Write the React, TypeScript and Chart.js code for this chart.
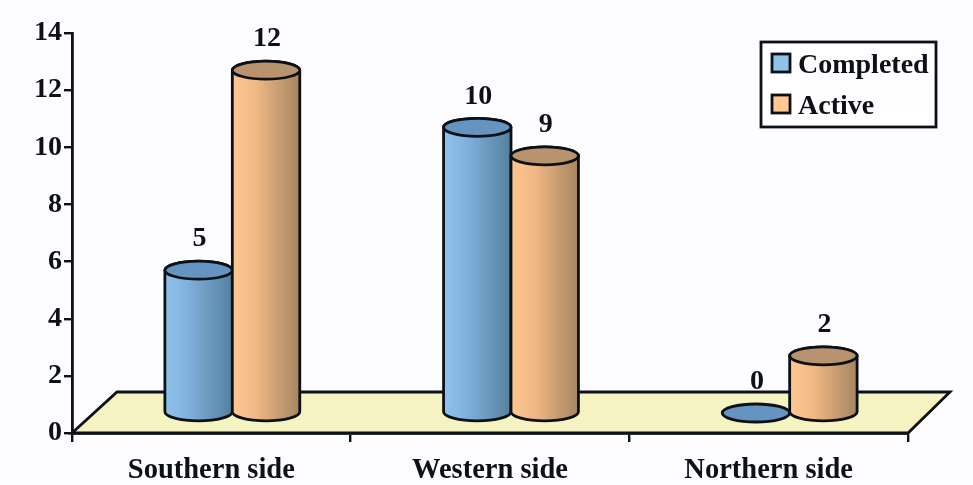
import React, { useEffect, useRef } from "react";
import { Chart, registerables } from "chart.js";

Chart.register(...registerables);

const categories = ["Southern side", "Western side", "Northern side"];
const completed = [5, 10, 0];
const active = [12, 9, 2];
const yTicks = [0, 2, 4, 6, 8, 10, 12, 14];

const FONT = '"Liberation Serif", "Times New Roman", serif';
const INK = "#0c1118";
const DEPTH_X = 21;
const DEPTH_Y = 20;
const CAP_RY = 9;
const STROKE = 2.8;

const palette = [
  { light: "#8fc3ec", mid: "#7fb0dc", dark: "#55809f", cap: "#6694c0", swatch: "#8fc3ec" },
  { light: "#ffc78f", mid: "#f0b885", dark: "#a58560", cap: "#b8936e", swatch: "#ffc78f" },
];

// Draws the pale floor the cylinders stand on.
const floorPlugin = {
  id: "floor",
  beforeDatasetsDraw(chart: any) {
    const { ctx, chartArea: a } = chart;
    const dx = 45;
    const dy = 41;
    ctx.save();
    ctx.beginPath();
    ctx.moveTo(a.left, a.bottom);
    ctx.lineTo(a.left + dx, a.bottom - dy);
    ctx.lineTo(a.right + 42, a.bottom - dy);
    ctx.lineTo(a.right, a.bottom);
    ctx.closePath();
    ctx.fillStyle = "#f5f3c1";
    ctx.fill();
    ctx.lineWidth = STROKE;
    ctx.strokeStyle = INK;
    ctx.lineJoin = "miter";
    ctx.stroke();
    ctx.restore();
  },
};

function drawCylinder(ctx: any, bar: any, tone: any, value: number) {
  const cx = bar.x + DEPTH_X;
  const rx = bar.width / 2;
  const top = bar.y - DEPTH_Y;
  const base = bar.base - DEPTH_Y;
  ctx.save();
  ctx.lineWidth = STROKE;
  ctx.strokeStyle = INK;
  if (value > 0) {
    const g = ctx.createLinearGradient(cx - rx, 0, cx + rx, 0);
    g.addColorStop(0, tone.light);
    g.addColorStop(0.35, tone.mid);
    g.addColorStop(1, tone.dark);
    ctx.beginPath();
    ctx.moveTo(cx - rx, top);
    ctx.lineTo(cx - rx, base);
    ctx.ellipse(cx, base, rx, CAP_RY, 0, Math.PI, 0, true);
    ctx.lineTo(cx + rx, top);
    ctx.ellipse(cx, top, rx, CAP_RY, 0, 0, Math.PI, true);
    ctx.closePath();
    ctx.fillStyle = g;
    ctx.fill();
    ctx.stroke();
  }
  ctx.beginPath();
  ctx.ellipse(cx, top, rx, CAP_RY, 0, 0, Math.PI * 2);
  ctx.fillStyle = tone.cap;
  ctx.fill();
  ctx.stroke();
  ctx.restore();
}

// Replaces the flat bars with cylinders and writes each value above its cap.
const cylinderPlugin = {
  id: "cylinders",
  afterDatasetsDraw(chart: any) {
    const { ctx } = chart;
    chart.data.datasets.forEach((ds: any, i: number) => {
      chart.getDatasetMeta(i).data.forEach((bar: any, j: number) => {
        drawCylinder(ctx, bar, palette[i], ds.data[j]);
      });
    });
    chart.data.datasets.forEach((ds: any, i: number) => {
      chart.getDatasetMeta(i).data.forEach((bar: any, j: number) => {
        ctx.save();
        ctx.font = `bold 28px ${FONT}`;
        ctx.fillStyle = INK;
        ctx.textAlign = "center";
        ctx.textBaseline = "middle";
        ctx.fillText(String(ds.data[j]), bar.x + DEPTH_X + 1, bar.y - DEPTH_Y - 31);
        ctx.restore();
      });
    });
  },
};

// Framed key in the upper right corner of the plot.
const keyPlugin = {
  id: "key",
  afterDraw(chart: any) {
    const { ctx } = chart;
    ctx.save();
    ctx.lineWidth = STROKE;
    ctx.strokeStyle = INK;
    ctx.fillStyle = "#fffdfd";
    ctx.fillRect(761, 42, 175, 85);
    ctx.strokeRect(761, 42, 175, 85);
    chart.data.datasets.forEach((ds: any, i: number) => {
      const y = 54 + i * 41;
      ctx.fillStyle = palette[i].swatch;
      ctx.fillRect(772, y, 18, 18);
      ctx.strokeRect(772, y, 18, 18);
      ctx.font = `bold 28px ${FONT}`;
      ctx.fillStyle = INK;
      ctx.textAlign = "left";
      ctx.textBaseline = "middle";
      ctx.fillText(ds.label, 798, y + 12);
    });
    ctx.restore();
  },
};

export default function App() {
  const ref = useRef<HTMLCanvasElement>(null);

  useEffect(() => {
    const chart = new Chart(ref.current!, {
      type: "bar",
      data: {
        labels: categories,
        datasets: [
          { label: "Completed", data: completed, backgroundColor: "transparent" },
          { label: "Active", data: active, backgroundColor: "transparent" },
        ],
      },
      options: {
        responsive: false,
        animation: false,
        layout: { padding: { top: 33, right: 65, bottom: 0, left: 0 } },
        categoryPercentage: 0.484,
        barPercentage: 1,
        plugins: { legend: { display: false }, tooltip: { enabled: false }, title: { display: false } },
        scales: {
          x: {
            afterFit: (s: any) => { s.height = 52; },
            grid: { drawOnChartArea: false, drawTicks: true, tickLength: 9, color: INK, lineWidth: 2.4 },
            border: { color: INK, width: STROKE },
            ticks: {
              color: INK,
              padding: 12,
              maxRotation: 0,
              font: { family: FONT, size: 28.5, weight: "bold" },
            },
          },
          y: {
            min: 0,
            max: 14,
            afterFit: (s: any) => { s.width = 72; },
            afterBuildTicks: (s: any) => { s.ticks = yTicks.map((value) => ({ value })); },
            grid: { drawOnChartArea: false, drawTicks: true, tickLength: 8, color: INK, lineWidth: 2.4 },
            border: { color: INK, width: STROKE },
            ticks: {
              color: INK,
              padding: 2,
              font: { family: FONT, size: 28, weight: "bold" },
            },
          },
        },
      } as any,
      plugins: [floorPlugin, cylinderPlugin, keyPlugin],
    });
    return () => chart.destroy();
  }, []);

  return (
    <canvas
      ref={ref}
      width={973}
      height={485}
      style={{ position: "absolute", left: 0, top: 0, width: 973, height: 485, background: "#fdfdff" }}
    />
  );
}
